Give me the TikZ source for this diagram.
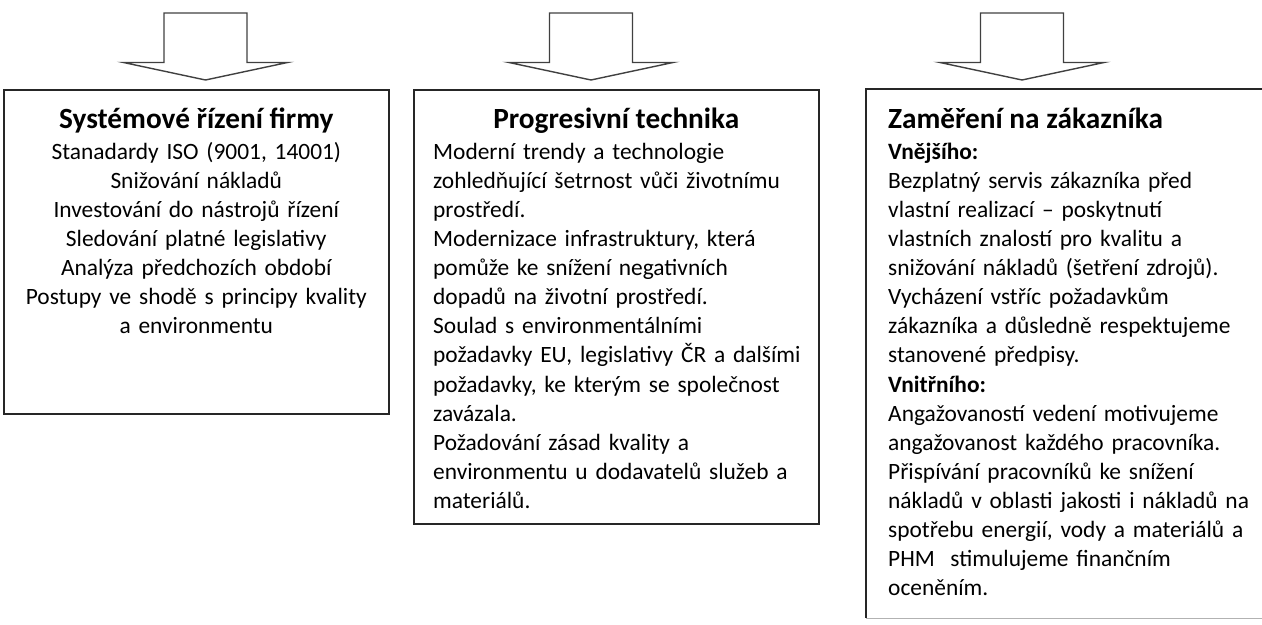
\documentclass[tikz,border=0pt]{standalone}
\usepackage{fontspec}
\setmainfont{Carlito}
\tikzset{
  box/.style={draw=black!85, line width=1.6bp},
  headline/.style={font=\fontsize{29.3bp}{35bp}\selectfont\bfseries, inner sep=0pt, text=black},
  bodytext/.style={font=\fontsize{23.4bp}{29bp}\selectfont, inner sep=0pt, text=black},
  blockarrow/.style={draw=black!75, line width=1.4bp, line join=miter}
}
\newcommand{\fullline}[1]{\makebox[365bp][s]{#1}}
\begin{document}
\begin{tikzpicture}[x=1bp,y=-1bp]
  \useasboundingbox (0,0) rectangle (1262,625);
  % block arrows
  \foreach \cx in {205.5,591,1022}
    \draw[blockarrow] (\cx-41.5,62.5) -- (\cx-41.5,13) -- (\cx+41.5,13) -- (\cx+41.5,62.5)
      -- (\cx+82,62.5) -- (\cx,80) -- (\cx-82,62.5) -- cycle;
  % boxes
  \node[box, anchor=north west, minimum width=385bp, minimum height=324bp] (sys) at (3,89) {};
  \node[box, anchor=north west, minimum width=405bp, minimum height=434bp] (tech) at (413,89) {};
  \node[anchor=north west, minimum width=404bp, minimum height=529bp, inner sep=0pt] (zak) at (866,89) {};
  \draw[box] (zak.north east) -- (zak.north west) -- (zak.south west);
  \draw[black!30, line width=1bp] (zak.south west) -- (zak.south east);
  % left box
  \node[headline, anchor=base] (systitle) at (sys.north |- 0,129) {Systémové řízení firmy};
  \node[bodytext, anchor=base, text width=385bp, align=center] (sysbody) at (sys.north |- 0,160)
    {Stanadardy ISO (9001, 14001)\\
     Snižování nákladů\\
     Investování do nástrojů řízení\\
     Sledování platné legislativy\\
     Analýza předchozích období\\
     Postupy ve shodě s principy kvality\\
     a environmentu};
  % middle box
  \node[headline, anchor=base] (techtitle) at (tech.north |- 0,129) {Progresivní technika};
  \node[bodytext, anchor=base west, text width=385bp, align=left] (techbody) at (433,160)
    {\fullline{Moderní trendy a technologie}\\
     \fullline{zohledňující šetrnost vůči životnímu}\\
     prostředí.\\
     \fullline{Modernizace infrastruktury, která}\\
     \fullline{pomůže ke snížení negativních}\\
     dopadů na životní prostředí.\\
     Soulad s environmentálními\\
     požadavky EU, legislativy ČR a dalšími\\
     požadavky, ke kterým se společnost\\
     zavázala.\\
     Požadování zásad kvality a\\
     environmentu u dodavatelů služeb a\\
     materiálů.};
  % right box
  \node[headline, anchor=base west] (zaktitle) at (888,129) {Zaměření na zákazníka};
  \node[bodytext, anchor=base west, text width=380bp, align=left] (zakbody) at (888,160)
    {\textbf{Vnějšího:}\\
     Bezplatný servis zákazníka před\\
     vlastní realizací – poskytnutí\\
     vlastních znalostí pro kvalitu a\\
     snižování nákladů (šetření zdrojů).\\
     Vycházení vstříc požadavkům\\
     zákazníka a důsledně respektujeme\\
     stanovené předpisy.\\
     \textbf{Vnitřního:}\\
     Angažovaností vedení motivujeme\\
     angažovanost každého pracovníka.\\
     Přispívání pracovníků ke snížení\\
     nákladů v oblasti jakosti i nákladů na\\
     spotřebu energií, vody a materiálů a\\
     PHM\ \ stimulujeme finančním\\
     oceněním.};
\end{tikzpicture}
\end{document}
